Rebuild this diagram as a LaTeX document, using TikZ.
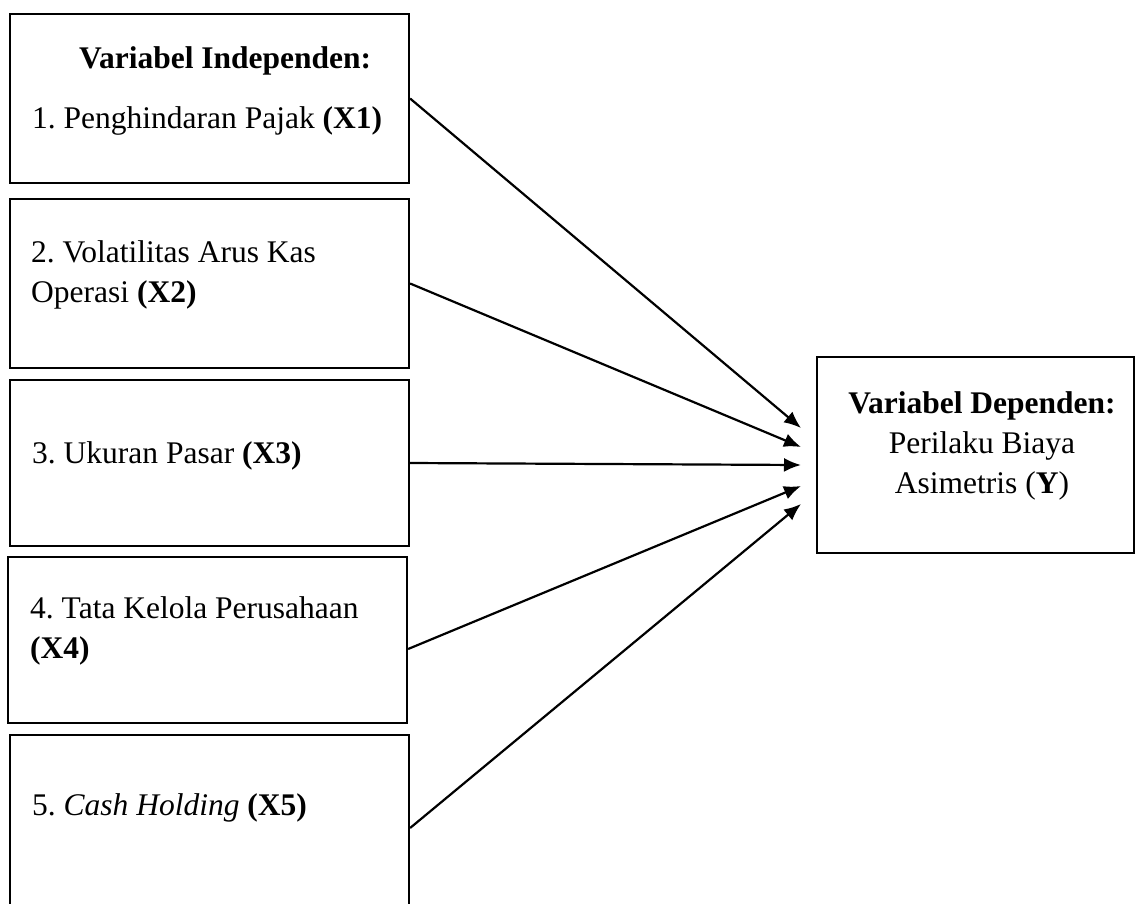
\documentclass[tikz,border=0pt]{standalone}
\usepackage{fontspec}
\setmainfont{Liberation Serif}
\usetikzlibrary{arrows.meta}
\begin{document}
\begin{tikzpicture}[x=1pt,y=-1pt]
       \tikzset{>={Latex[length=17pt,width=14pt]}}
       \tikzset{box/.style={draw,line width=2.2pt,minimum width=399pt,inner sep=0pt}}
       \tikzset{txt/.style={anchor=base west,inner sep=0pt,align=left,font=\fontsize{31.5}{40}\selectfont\frenchspacing}}
       \useasboundingbox (0,0) rectangle (1136,903);

       \node[box,minimum height=169pt] (x1) at (209.5,98.5) {};
       \node[box,minimum height=169pt] (x2) at (209.5,283.5) {};
       \node[box,minimum height=166pt] (x3) at (209.5,463) {};
       \node[box,minimum height=166pt] (x4) at (207.5,640) {};
       \node[box,minimum height=170pt] (x5) at (209.5,820) {};
       \node[box,minimum width=317pt,minimum height=196pt] (y) at (975.5,455) {};

       % base anchor = last line
       \node[txt] (t1) at (32,128) {\hspace*{47pt}\textbf{Variabel Independen:}\\[20pt]1. Penghindaran Pajak \textbf{(X1)}};
       \node[txt] (t2) at (31,302) {2. Volatilitas Arus Kas\\Operasi \textbf{(X2)}};
       \node[txt] (t3) at (32,463) {3. Ukuran Pasar \textbf{(X3)}};
       \node[txt] (t4) at (30,658) {4. Tata Kelola Perusahaan\\\textbf{(X4)}};
       \node[txt] (t5) at (32,815) {5. \textit{Cash Holding} \textbf{(X5)}};
       \node[txt,anchor=base,align=center] (ty) at (982,493) {\textbf{Variabel Dependen:}\\Perilaku Biaya\\Asimetris (\textbf{Y})};

       \coordinate (e1) at (801,428);
       \coordinate (e2) at (801,447);
       \coordinate (e3) at (801,465);
       \coordinate (e4) at (801,486);
       \coordinate (e5) at (801,504);

       \draw[->,line width=2.2pt] (x1.east) -- (e1);
       \draw[->,line width=2.2pt] (x2.east) -- (e2);
       \draw[->,line width=2.2pt] (x3.east) -- (e3);
       \draw[->,line width=2.2pt] ([yshift=-9pt]x4.east) -- (e4);
       \draw[->,line width=2.2pt] ([yshift=-8pt]x5.east) -- (e5);
\end{tikzpicture}
\end{document}
